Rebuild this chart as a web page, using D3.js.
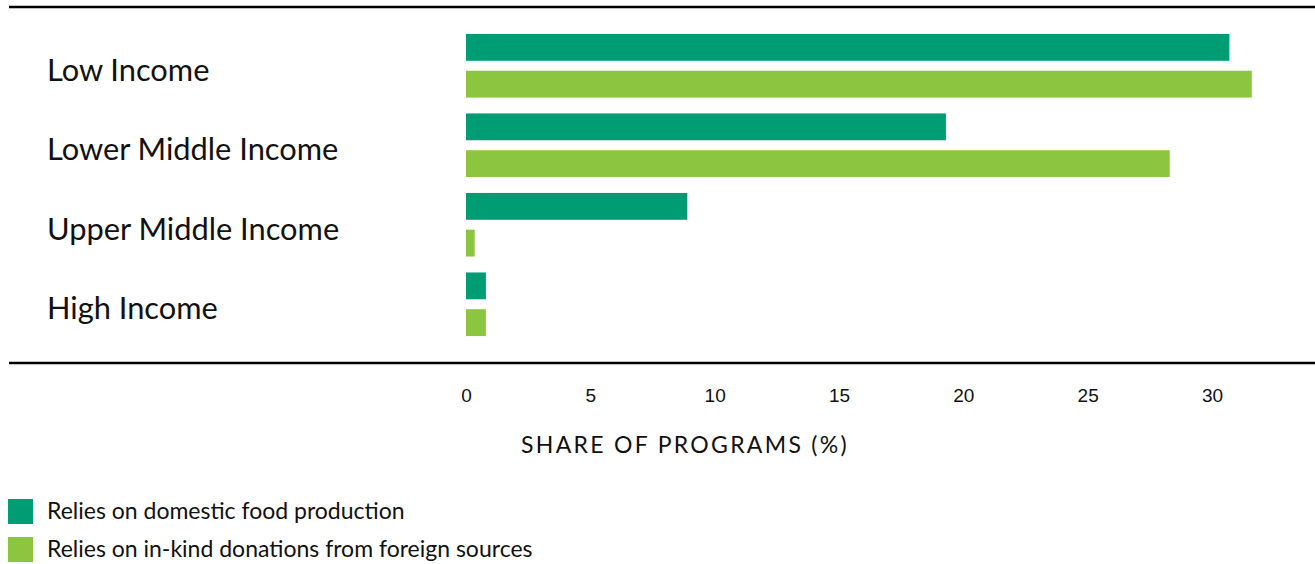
<!DOCTYPE html>
<html>
<head>
<meta charset="utf-8">
<script src="https://cdn.jsdelivr.net/npm/d3@7"></script>
<style>
  body { margin: 0; background: #fff; }
  svg { display: block; font-family: Lato, "Open Sans", sans-serif; }
  .cat { font-size: 30.8px; fill: #111; }
  .axis text { font-size: 19px; fill: #111; }
  .axis-title { font-size: 23px; letter-spacing: 2.3px; fill: #111; }
  .legend text { font-size: 23px; fill: #111; }
</style>
</head>
<body>
<div id="chart"></div>
<script>
var categories = ["Low Income", "Lower Middle Income", "Upper Middle Income", "High Income"];
var seriesNames = ["Relies on domestic food production", "Relies on in-kind donations from foreign sources"];
var domestic = [30.7, 19.3, 8.9, 0.8];
var foreign = [31.6, 28.3, 0.35, 0.8];
var ticks = [0, 5, 10, 15, 20, 25, 30];
var colors = ["#009c74", "#8cc640"];

var width = 1315, height = 564;

var svg = d3.select("#chart").append("svg")
    .attr("width", width)
    .attr("height", height);

var x = d3.scaleLinear().domain([0, 30]).range([466, 1212]);

var y = d3.scaleBand()
    .domain(categories)
    .range([26, 344])
    .paddingInner(0.2)
    .paddingOuter(0.1);

var ySub = d3.scaleBand()
    .domain([0, 1])
    .range([0, y.bandwidth()])
    .paddingInner(0.27);

var data = categories.map(function(c, i) {
  return { cat: c, values: [domestic[i], foreign[i]] };
});

// frame lines
svg.append("line")
    .attr("x1", 9).attr("x2", width)
    .attr("y1", 7).attr("y2", 7)
    .attr("stroke", "#000").attr("stroke-width", 2.5);
svg.append("line")
    .attr("x1", 9).attr("x2", width)
    .attr("y1", 363).attr("y2", 363)
    .attr("stroke", "#000").attr("stroke-width", 2.5);

var groups = svg.selectAll(".group")
    .data(data)
  .enter().append("g")
    .attr("class", "group")
    .attr("transform", function(d) { return "translate(0," + y(d.cat) + ")"; });

groups.selectAll("rect")
    .data(function(d) { return d.values; })
  .enter().append("rect")
    .attr("x", x(0))
    .attr("y", function(d, i) { return ySub(i); })
    .attr("width", function(d) { return x(d) - x(0); })
    .attr("height", ySub.bandwidth())
    .attr("fill", function(d, i) { return colors[i]; });

groups.append("text")
    .attr("class", "cat")
    .attr("x", 47)
    .attr("y", y.bandwidth() / 2 + 15)
    .text(function(d) { return d.cat; });

// x axis (labels only)
var axis = svg.append("g")
    .attr("class", "axis")
    .attr("transform", "translate(0,363)")
    .call(d3.axisBottom(x).tickValues(ticks).tickSize(0).tickPadding(26));
axis.select(".domain").remove();
axis.selectAll("text").attr("font-family", null).attr("font-size", null);

svg.append("text")
    .attr("class", "axis-title")
    .attr("x", 685)
    .attr("y", 453)
    .attr("text-anchor", "middle")
    .text("SHARE OF PROGRAMS (%)");

// legend
var legend = svg.append("g")
    .attr("class", "legend")
    .selectAll("g")
    .data(seriesNames)
  .enter().append("g")
    .attr("transform", function(d, i) { return "translate(8," + (499 + i * 38) + ")"; });

legend.append("rect")
    .attr("width", 25)
    .attr("height", 25)
    .attr("fill", function(d, i) { return colors[i]; });

legend.append("text")
    .attr("x", 39)
    .attr("y", 20)
    .text(function(d) { return d; });
</script>
</body>
</html>
